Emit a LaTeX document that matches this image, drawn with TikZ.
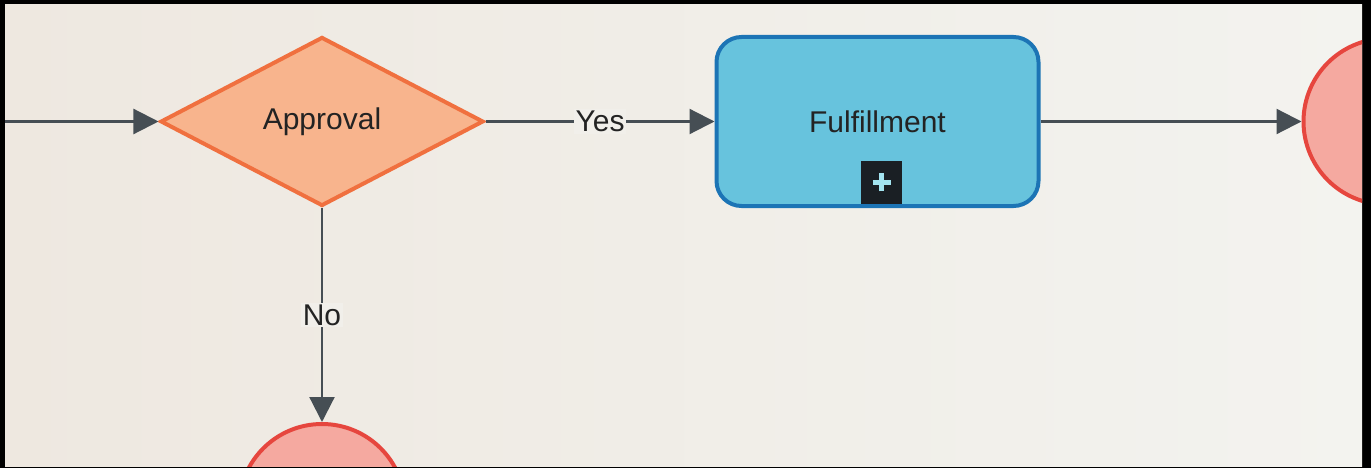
\documentclass[tikz,border=0pt]{standalone}
\usepackage{fontspec}
\setmainfont{Liberation Sans}
\usetikzlibrary{shapes.geometric, arrows.meta, positioning}

\definecolor{bgleft}{HTML}{EEE8E0}
\definecolor{bgright}{HTML}{F3F3EF}
\definecolor{bgmid}{HTML}{F1EFEA}
\definecolor{flowgray}{HTML}{464E54}
\definecolor{textgray}{HTML}{232323}
\definecolor{gatefill}{HTML}{F8B48D}
\definecolor{gateline}{HTML}{F0703F}
\definecolor{taskfill}{HTML}{67C3DD}
\definecolor{taskline}{HTML}{1C74B5}
\definecolor{endfill}{HTML}{F5A9A0}
\definecolor{endline}{HTML}{E6463E}
\definecolor{plusfill}{HTML}{1A1F24}
\definecolor{pluscyan}{HTML}{A3E4F0}

\newcommand{\flowfont}{\fontsize{30}{36}\selectfont}

\begin{document}
\begin{tikzpicture}[x=1pt, y=-1pt,
    flow/.style={draw=flowgray, line width=2.2pt, -{Triangle[length=25pt, width=25pt]}},
    gate/.style={diamond, draw=gateline, fill=gatefill, line width=4pt, aspect=1.91,
        minimum width=323pt, minimum height=169pt, inner sep=0pt, font=\flowfont, text=textgray},
    task/.style={rectangle, rounded corners=25pt, draw=taskline, fill=taskfill, line width=4pt,
        minimum width=322pt, minimum height=169pt, font=\flowfont, text=textgray},
    endevent/.style={circle, draw=endline, fill=endfill, line width=4pt, minimum size=166pt},
    plusbox/.style={rectangle, fill=plusfill, minimum width=41pt, minimum height=43pt, inner sep=0pt},
    plusmark/.style={draw=pluscyan, line width=5pt},
    lbl/.style={fill=bgmid, inner sep=2pt, font=\flowfont, text=textgray}]

    \useasboundingbox (0,0) rectangle (1371,468);
    \fill[black] (0,0) rectangle (1371,468);
    \shade[left color=bgleft, right color=bgright] (5,5) rectangle (1362,466);

    \begin{scope}
    \clip (5,5) rectangle (1362,466);

    \coordinate (entry) at (5,121.5);

    \node[gate]     (approval) at (322,121.5) {Approval};
    \node[task]     (fulfil)   [right= 229pt of approval] {Fulfillment};
    \node[endevent] (endR)     [right= 261pt of fulfil] {};
    \node[endevent] (endB)     [below= 214pt of approval] {};

    \node[plusbox, xshift=4pt] (plus) [above= 4pt of fulfil.south] {};
    \draw[plusmark] ([xshift=-9pt]plus.center) -- ([xshift=9pt]plus.center);
    \draw[plusmark] ([yshift=-9pt]plus.center) -- ([yshift=9pt]plus.center);

    \path (entry)    edge [flow]                  (approval)
          (approval) edge [flow] node[lbl] {Yes} (fulfil)
                     edge [flow] node[lbl] {No}  (endB)
          (fulfil)   edge [flow]                  (endR);
    \end{scope}
\end{tikzpicture}
\end{document}
